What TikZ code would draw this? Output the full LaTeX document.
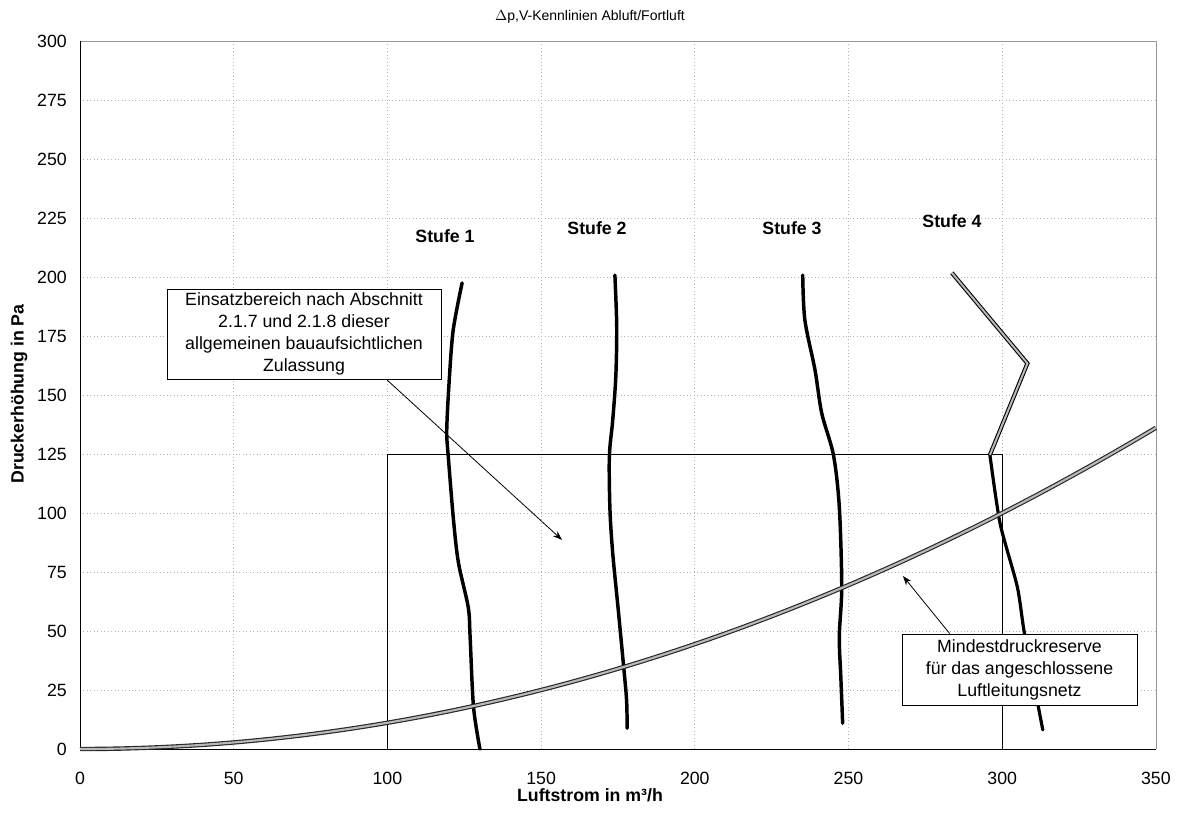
\documentclass[tikz,border=0pt]{standalone}
\usepackage{fontspec}
\setmainfont{Liberation Sans}
\usetikzlibrary{arrows.meta,calc}
\tikzset{
  grid/.style={gray!60, dotted, line width=0.6pt},
  frame/.style={black, line width=0.6pt},
  tick/.style={font=\fontsize{13.3pt}{15pt}\selectfont, inner sep=0pt},
  lab/.style={font=\fontsize{13.3pt}{15pt}\selectfont\bfseries, inner sep=0pt},
  stufe/.style={black, line width=2.6pt, line join=round, line cap=round},
  stufedbl/.style={draw=black, line width=0.8pt, double=gray!55, double distance=1.5pt, line join=miter},
  parab/.style={draw=black!85, line width=0.85pt, double=gray!55, double distance=1.6pt},
  note/.style={draw=black, line width=0.6pt, fill=white, align=center, inner sep=2pt,
               font=\fontsize{13.3pt}{16.5pt}\selectfont},
  pointer/.style={black, line width=0.6pt, -{Stealth[length=7pt,width=5pt]}}
}
\begin{document}
\begin{tikzpicture}[x=0.75pt,y=-0.75pt]
\useasboundingbox (0,0) rectangle (1180,818);
\fill[white] (0,0) rectangle (1180,818);

% title and axis labels
\node[font=\fontsize{10.5pt}{12pt}\selectfont, inner sep=0pt] (title) at (590,17) {$\Delta$p,V-Kennlinien Abluft/Fortluft};
\node[lab] (xlab) at (590,795) {Luftstrom in m³/h};
\node[lab, rotate=90] (ylab) at (19,394) {Druckerhöhung in Pa};

\begin{scope}[shift={(80,749)}, xscale=3.074, yscale=-2.36]
  % grid
  \foreach \gx in {50,100,...,300} \draw[grid] (\gx,0) -- (\gx,300);
  \foreach \gy in {25,50,...,275} \draw[grid] (0,\gy) -- (350,\gy);
  % frame
  \draw[gray!80, line width=0.5pt] (0,300) -- (350,300) -- (350,0);
  \draw[frame] (0,300) -- (0,0) -- (350,0);
  % tick labels
  \foreach \gx in {0,50,...,350} \node[tick] (xt\gx) at (\gx,-12.3) {\gx};
  \foreach \gy in {0,25,...,300} \node[tick, anchor=east] (yt\gy) at (-4.2,\gy) {\gy};
  % operating range rectangle
  \draw[black, line width=0.6pt] (100,0) rectangle (300,125);
  % Stufe curves
  \draw[stufe] plot[smooth, tension=0.5] coordinates {(124.3,197.5) (121.4,177.5) (120.1,156) (119.3,135) (119.8,124) (121.5,97) (123.1,79) (126.3,60) (126.9,47.6) (128,18) (130.1,0)};
  \draw[stufe] plot[smooth, tension=0.5] coordinates {(174.0,200.8) (174.6,179) (174.3,157.8) (173.3,139.4) (172.2,123.9) (172.4,101.3) (173.3,82.9) (175.1,58.9) (176.8,35.6) (177.8,20.8) (178.0,8.8)};
  \draw[stufe] plot[smooth, tension=0.5] coordinates {(235.1,200.8) (235.8,181.8) (239.1,160.6) (241.3,142.2) (245.1,124.6) (247.0,102.7) (247.8,68.8) (247.0,47.6) (247.5,30.6) (248.1,10.9)};
  \draw[stufe, line width=2.4pt] plot[smooth, tension=0.4] coordinates {(296.0,124.6) (299.3,95.6) (304.9,68.8) (307.4,47.6) (313.2,8.1)};
  \draw[stufedbl] (283.6,201.8) -- (308.2,163.4) -- (296.0,124.6);
  % system curve
  \draw[parab] plot[domain=0:350, samples=80] (\x, {(\x/30)*(\x/30)});
  % arrow tips
  \coordinate (a1tip) at (156.8,88.6);
  \coordinate (a2tip) at (267.7,73.3);
\end{scope}

\node[lab] (s1) at (445,236) {Stufe 1};
\node[lab] (s2) at (597,228) {Stufe 2};
\node[lab] (s3) at (792,228) {Stufe 3};
\node[lab] (s4) at (952,221) {Stufe 4};

% annotation boxes
\node[note, minimum width=205.5pt, minimum height=67.5pt] (b1) at (304,334)
  {Einsatzbereich nach Abschnitt\\2.1.7 und 2.1.8 dieser\\allgemeinen bauaufsichtlichen\\Zulassung};
\node[note, minimum width=176.25pt, minimum height=53.25pt] (b2) at (1019.5,669.5)
  {Mindestdruckreserve\\für das angeschlossene\\Luftleitungsnetz};

\draw[pointer] ($(b1.south west)!0.80!(b1.south east)$) -- (a1tip);
\draw[pointer] ($(b2.north west)!0.204!(b2.north east)$) -- (a2tip);
\end{tikzpicture}
\end{document}
